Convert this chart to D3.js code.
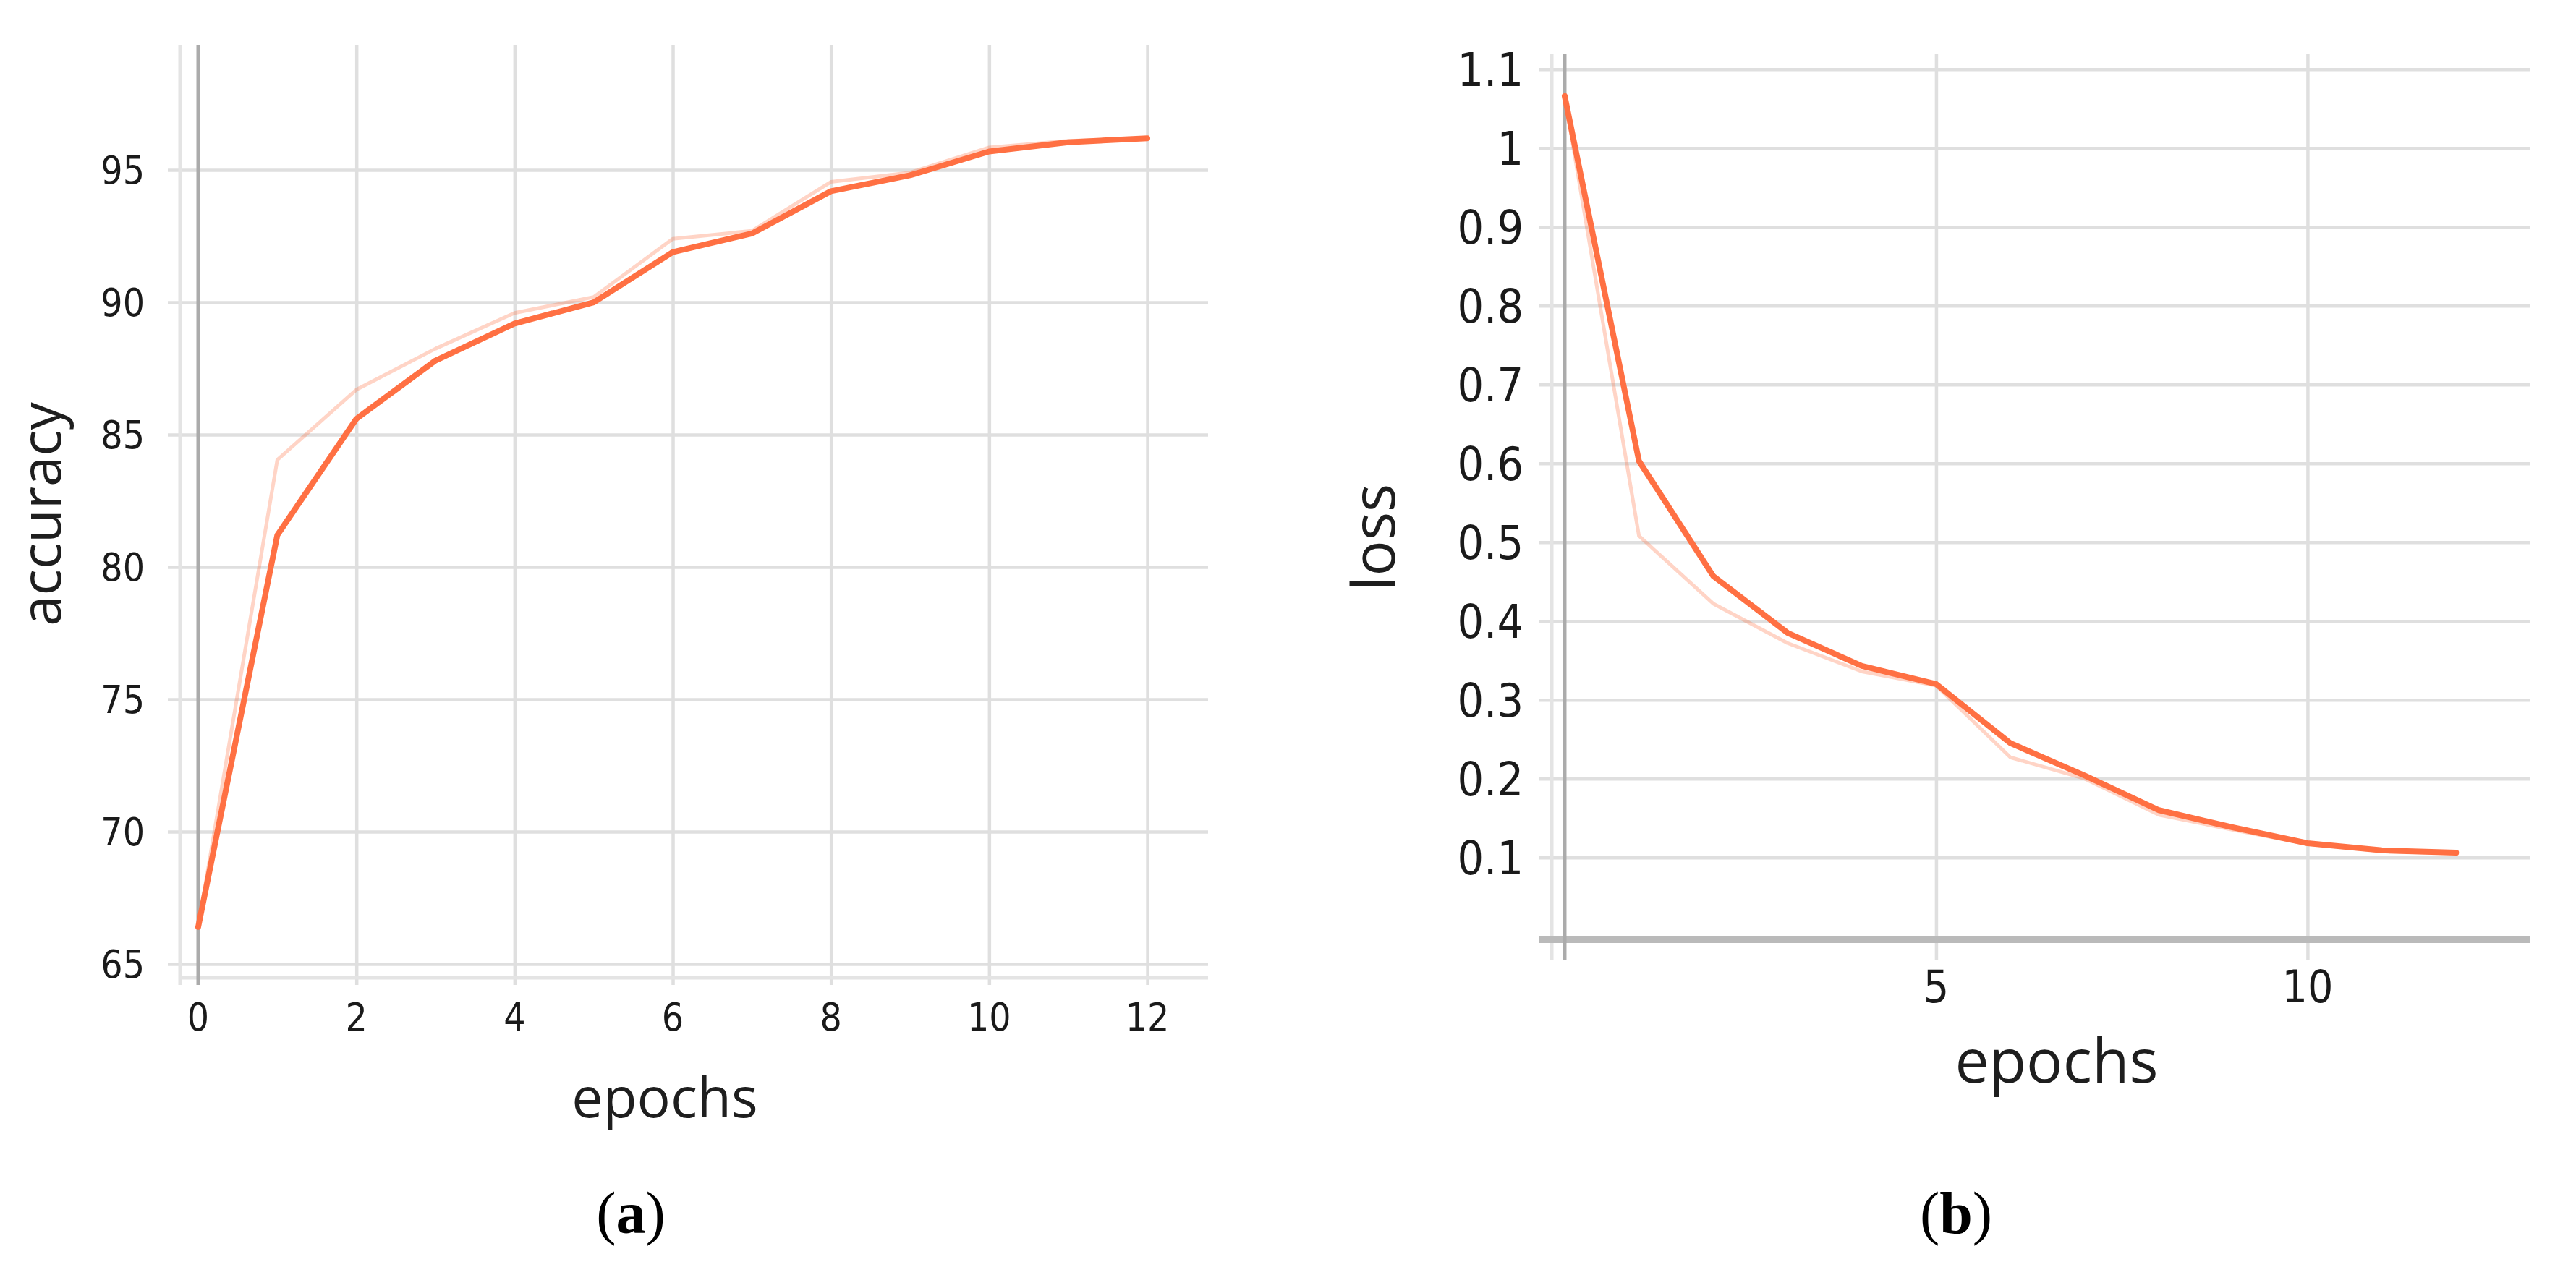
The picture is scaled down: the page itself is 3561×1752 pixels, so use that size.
<!DOCTYPE html>
<html>
<head>
<meta charset="utf-8">
<script src="https://cdn.jsdelivr.net/npm/d3@7"></script>
<style>
  html, body { margin: 0; padding: 0; background: #ffffff; }
  svg { display: block; }
  .tick-lbl { font-family: "DejaVu Sans Condensed", "DejaVu Sans", sans-serif; font-stretch: condensed; fill: #1a1a1a; }
  .ax-title { font-family: "Open Sans", sans-serif; fill: #1e1e1e; }
  .cap { font-family: "Liberation Serif", "Times New Roman", serif; fill: #000; }
</style>
</head>
<body>
<svg id="chart" width="3561" height="1752"></svg>
<script>
// ---------------- data ----------------
const epochs = [0, 1, 2, 3, 4, 5, 6, 7, 8, 9, 10, 11, 12];
const accuracySmoothed = [66.4, 81.2, 85.6, 87.8, 89.2, 90.0, 91.9, 92.6, 94.2, 94.8, 95.7, 96.05, 96.2];
const accuracyRaw      = [66.4, 84.05, 86.7, 88.25, 89.6, 90.2, 92.4, 92.7, 94.55, 94.9, 95.85, 96.1, 96.2];
const lossSmoothed = [1.066, 0.603, 0.457, 0.385, 0.343, 0.320, 0.245, 0.204, 0.160, 0.138, 0.118, 0.109, 0.106];
const lossRaw      = [1.066, 0.508, 0.422, 0.372, 0.336, 0.318, 0.227, 0.200, 0.154, 0.135, 0.117, 0.108, 0.105];

const accYTicks = [65, 70, 75, 80, 85, 90, 95];
const accXTicks = [0, 2, 4, 6, 8, 10, 12];
const lossYTicks = [0.1, 0.2, 0.3, 0.4, 0.5, 0.6, 0.7, 0.8, 0.9, 1, 1.1];
const lossXTicks = [5, 10];

const accYLabel = "accuracy", lossYLabel = "loss", xLabel = "epochs";
const captions = ["a", "b"];

// ---------------- styling ----------------
const LINE_COLOR = "#ff7043";
const GRID = "#dfdfdf";
const svg = d3.select("#chart");
svg.append("rect").attr("width", 3561).attr("height", 1752).attr("fill", "#fff");

function panel(cfg) {
  const g = svg.append("g");
  const x = d3.scaleLinear().domain(cfg.xDomain).range([cfg.left, cfg.right]);
  const y = d3.scaleLinear().domain(cfg.yDomain).range([cfg.bottom, cfg.top]);

  // horizontal gridlines (y axis ticks) via d3 axis
  const yAxis = d3.axisLeft(y).tickValues(cfg.yTicks)
    .tickSize(-(cfg.right - cfg.left + cfg.gridExt)).tickFormat(d3.format(cfg.yFmt)).tickPadding(0);
  const ya = g.append("g").attr("transform", `translate(${cfg.left - cfg.gridExt},0)`).call(yAxis);
  ya.select(".domain").remove();
  ya.selectAll(".tick line").attr("stroke", GRID).attr("stroke-width", 4.5);
  ya.selectAll(".tick text").attr("class", "tick-lbl").attr("font-size", cfg.yFont)
    .attr("x", -(cfg.labelGap)).attr("dy", "0.35em").attr("text-anchor", "end")
    .attr("fill", "#1a1a1a");

  // vertical gridlines via d3 axis
  const xAxis = d3.axisBottom(x).tickValues(cfg.xGrid).tickFormat("")
    .tickSize(-(cfg.bottom - cfg.top + cfg.vExt));
  const xa = g.append("g").attr("transform", `translate(0,${cfg.bottom + cfg.vExt})`).call(xAxis);
  xa.select(".domain").remove();
  xa.selectAll(".tick line").attr("stroke", GRID).attr("stroke-width", 4.5);

  // frame: light left axis line and bottom axis line
  g.append("line").attr("x1", cfg.left).attr("x2", cfg.left)
    .attr("y1", cfg.top).attr("y2", cfg.bottom + cfg.vExt)
    .attr("stroke", "#e4e4e4").attr("stroke-width", 5);
  g.append("line").attr("x1", cfg.left - cfg.bottomExt).attr("x2", cfg.right)
    .attr("y1", cfg.bottom).attr("y2", cfg.bottom)
    .attr("stroke", cfg.bottomColor).attr("stroke-width", cfg.bottomWidth);

  // dark zero line
  g.append("line").attr("x1", x(0)).attr("x2", x(0))
    .attr("y1", cfg.top).attr("y2", cfg.bottom + cfg.vExt)
    .attr("stroke", "#ababab").attr("stroke-width", 5);

  // x tick labels
  g.append("g").selectAll("text").data(cfg.xTicks).join("text")
    .attr("class", "tick-lbl").attr("font-size", cfg.xFont)
    .attr("x", d => x(d)).attr("y", cfg.xLabelY).attr("dy", "0.35em")
    .attr("text-anchor", "middle").text(d => d);

  // lines
  const line = d3.line().x((d, i) => x(epochs[i])).y(d => y(d));
  g.append("path").datum(cfg.raw).attr("d", line).attr("fill", "none")
    .attr("stroke", LINE_COLOR).attr("stroke-opacity", 0.3).attr("stroke-width", 5)
    .attr("stroke-linejoin", "round");
  g.append("path").datum(cfg.smooth).attr("d", line).attr("fill", "none")
    .attr("stroke", LINE_COLOR).attr("stroke-width", 8).attr("stroke-linejoin", "round")
    .attr("stroke-linecap", "round");

  // axis titles
  g.append("text").attr("class", "ax-title").attr("font-size", cfg.yTitleFont)
    .attr("transform", `translate(${cfg.yTitleX},${cfg.yTitleY}) rotate(-90)`)
    .attr("text-anchor", "middle").text(cfg.yTitle);
  g.append("text").attr("class", "ax-title").attr("font-size", cfg.xTitleFont)
    .attr("x", cfg.xTitleX).attr("y", cfg.xTitleY).attr("text-anchor", "middle").text(xLabel);

  // caption
  const cap = g.append("text").attr("class", "cap").attr("font-size", 82)
    .attr("x", cfg.capX).attr("y", 1705).attr("text-anchor", "middle");
  cap.append("tspan").text("(");
  cap.append("tspan").attr("font-weight", "bold").text(cfg.caption);
  cap.append("tspan").text(")");
}

panel({
  left: 249, right: 1670, top: 62, bottom: 1352,
  xDomain: [-0.2287, 12.768], yDomain: [64.48, 99.73],
  yTicks: accYTicks, yFmt: "d", xTicks: accXTicks, xGrid: [2, 4, 6, 8, 10, 12],
  gridExt: 17, vExt: 10, labelGap: 32, bottomExt: 2,
  bottomColor: "#e4e4e4", bottomWidth: 5,
  yFont: 53, xFont: 53, xLabelY: 1406,
  raw: accuracyRaw, smooth: accuracySmoothed,
  yTitle: accYLabel, yTitleX: 84, yTitleY: 711, yTitleFont: 76,
  xTitleX: 919, xTitleY: 1545, xTitleFont: 77,
  capX: 872, caption: captions[0]
});

panel({
  left: 2145, right: 3498, top: 74, bottom: 1299,
  xDomain: [-0.175, 13.0], yDomain: [-0.004, 1.12],
  yTicks: lossYTicks, yFmt: "", xTicks: lossXTicks, xGrid: [5, 10],
  gridExt: 18, vExt: 28, labelGap: 21, bottomExt: 17,
  bottomColor: "#bababa", bottomWidth: 10,
  yFont: 64, xFont: 62, xLabelY: 1364,
  raw: lossRaw, smooth: lossSmoothed,
  yTitle: lossYLabel, yTitleX: 1928, yTitleY: 743, yTitleFont: 82,
  xTitleX: 2843, xTitleY: 1497, xTitleFont: 84,
  capX: 2704, caption: captions[1]
});
</script>
</body>
</html>
